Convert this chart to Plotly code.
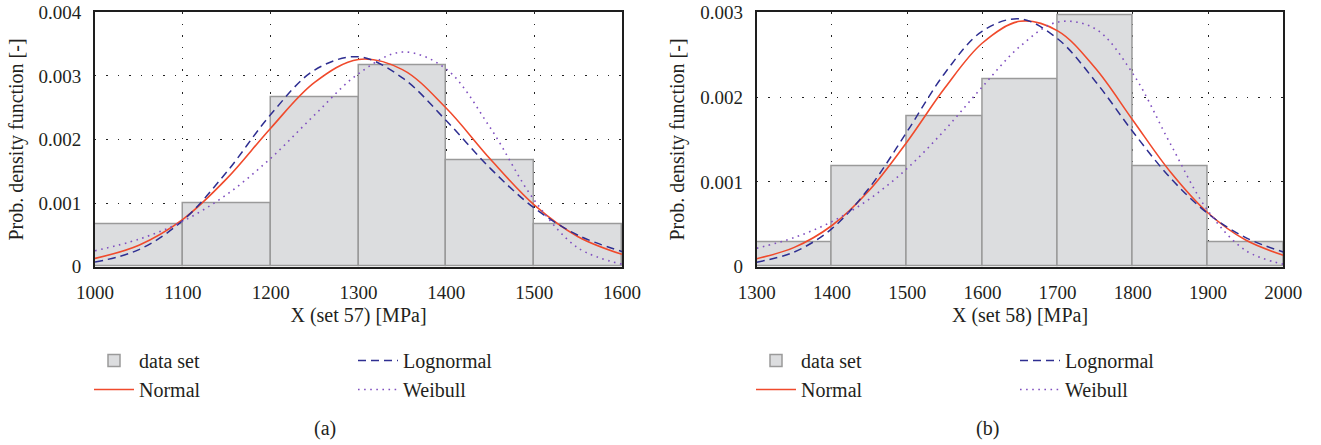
import plotly.graph_objects as go
from plotly.subplots import make_subplots

# ---------------- data ----------------
# Panel (a): set 57
BIN_LEFT_A = [1000, 1100, 1200, 1300, 1400, 1500]
DENS_A = [0.00067, 0.00100, 0.00267, 0.00317, 0.00167, 0.00067]

X_A = [1000, 1050, 1100, 1150, 1200, 1250, 1300, 1350, 1400, 1450, 1500, 1550, 1600]
NORMAL_A = [0.000130, 0.000338, 0.000744, 0.001384, 0.002178, 0.002898, 0.003259,
            0.003099, 0.002491, 0.001693, 0.000973, 0.000472, 0.000194]
LOGN_A = [0.000072, 0.000268, 0.000727, 0.001490, 0.002392, 0.003092, 0.003300,
          0.002969, 0.002295, 0.001547, 0.000924, 0.000494, 0.000239]
WEIB_A = [0.000251, 0.000432, 0.000715, 0.001135, 0.001704, 0.002386, 0.003035,
          0.003375, 0.003106, 0.002185, 0.001049, 0.000295, 0.000039]

# Panel (b): set 58
BIN_LEFT_B = [1300, 1400, 1500, 1600, 1700, 1800, 1900]
DENS_B = [0.00029, 0.00118, 0.00177, 0.00221, 0.00296, 0.00118, 0.00029]

X_B = [1300, 1350, 1400, 1450, 1500, 1550, 1600, 1650, 1700, 1750, 1800, 1850, 1900, 1950, 2000]
NORMAL_B = [0.000094, 0.000228, 0.000486, 0.000904, 0.001474, 0.002107, 0.002638, 0.002894,
            0.002781, 0.002342, 0.001728, 0.001117, 0.000633, 0.000314, 0.000136]
LOGN_B = [0.000053, 0.000174, 0.000449, 0.000934, 0.001595, 0.002282, 0.002779, 0.002923,
          0.002688, 0.002188, 0.001592, 0.001046, 0.000625, 0.000343, 0.000173]
WEIB_B = [0.000217, 0.000344, 0.000532, 0.000799, 0.001159, 0.001612, 0.002122, 0.002598,
          0.002885, 0.002806, 0.002278, 0.001447, 0.000658, 0.000191, 0.000030]

BIN_WIDTH = 100

X_TICKS_A = [1000, 1100, 1200, 1300, 1400, 1500, 1600]
X_TICKS_B = [1300, 1400, 1500, 1600, 1700, 1800, 1900, 2000]
Y_TICKS_A = [0, 0.001, 0.002, 0.003, 0.004]
Y_TICKTEXT_A = ["0", "0.001", "0.002", "0.003", "0.004"]
Y_TICKS_B = [0, 0.001, 0.002, 0.003]
Y_TICKTEXT_B = ["0", "0.001", "0.002", "0.003"]

X_TITLE_A = "X (set 57) [MPa]"
X_TITLE_B = "X (set 58) [MPa]"
Y_TITLE = "Prob. density function [-]"
SERIES_NAMES = ["data set", "Normal", "Lognormal", "Weibull"]

# ---------------- styling ----------------
FONT = "Liberation Serif"
TXT = "#231f20"
BAR_FILL = "#dcdddf"
BAR_EDGE = "#9a9a9a"
RED = "#f04a2c"
NAVY = "#2e2e91"
PURPLE = "#8050c0"

W, H = 1321, 445

fig = make_subplots(rows=1, cols=2)

def add_panel(col, bin_left, dens, xs, normal, logn, weib, legs):
    fig.add_trace(go.Bar(
        x=bin_left, y=dens, width=BIN_WIDTH, offset=0,
        marker=dict(color=BAR_FILL, line=dict(color=BAR_EDGE, width=1.5)),
        name=SERIES_NAMES[0], legend=legs[0], legendgroup=f"g{col}a",
        hoverinfo="skip"), row=1, col=col)
    fig.add_trace(go.Scatter(
        x=xs, y=normal, mode="lines", line=dict(color=RED, width=1.6, shape="spline"),
        name=SERIES_NAMES[1], legend=legs[0], legendgroup=f"g{col}b"), row=1, col=col)
    fig.add_trace(go.Scatter(
        x=xs, y=logn, mode="lines",
        line=dict(color=NAVY, width=1.5, shape="spline", dash="8px,5px"),
        name=SERIES_NAMES[2], legend=legs[1], legendgroup=f"g{col}c"), row=1, col=col)
    fig.add_trace(go.Scatter(
        x=xs, y=weib, mode="lines",
        line=dict(color=PURPLE, width=1.6, shape="spline", dash="1.6px,4.5px"),
        name=SERIES_NAMES[3], legend=legs[1], legendgroup=f"g{col}d"), row=1, col=col)

add_panel(1, BIN_LEFT_A, DENS_A, X_A, NORMAL_A, LOGN_A, WEIB_A, ["legend", "legend2"])
add_panel(2, BIN_LEFT_B, DENS_B, X_B, NORMAL_B, LOGN_B, WEIB_B, ["legend3", "legend4"])

ydom = [1 - 266.7 / H, 1 - 12.3 / H]
axis_common = dict(
    showline=True, linecolor="#1e1e1e", linewidth=1.7, mirror=True,
    showgrid=True, gridcolor="#222222", gridwidth=1.2, griddash="1.4px,10px",
    zeroline=False, ticks="", ticklabelstandoff=8,
    tickfont=dict(family=FONT, size=19, color=TXT),
    automargin=False,
)

fig.update_xaxes(**axis_common)
fig.update_yaxes(**axis_common)

fig.update_layout(
    xaxis=dict(domain=[95 / W, 622 / W], range=[1000, 1600], tickvals=X_TICKS_A,
               title=dict(text=X_TITLE_A, standoff=6, font=dict(family=FONT, size=20, color=TXT))),
    xaxis2=dict(domain=[756.7 / W, 1283.3 / W], range=[1300, 2000], tickvals=X_TICKS_B,
                title=dict(text=X_TITLE_B, standoff=6, font=dict(family=FONT, size=20, color=TXT))),
    yaxis=dict(domain=ydom, range=[0, 0.004], tickvals=Y_TICKS_A, ticktext=Y_TICKTEXT_A,
               title=dict(text=Y_TITLE, standoff=10, font=dict(family=FONT, size=20, color=TXT))),
    yaxis2=dict(domain=ydom, range=[0, 0.003], tickvals=Y_TICKS_B, ticktext=Y_TICKTEXT_B,
                title=dict(text=Y_TITLE, standoff=10, font=dict(family=FONT, size=20, color=TXT))),
    bargap=0,
    width=W, height=H,
    margin=dict(l=0, r=0, t=0, b=0),
    paper_bgcolor="white", plot_bgcolor="white",
    font=dict(family=FONT, size=20, color=TXT),
    hovermode=False,
)

leg_common = dict(orientation="v", xanchor="left", yanchor="top", bgcolor="rgba(0,0,0,0)",
                  font=dict(family=FONT, size=20, color=TXT), itemwidth=40,
                  tracegroupgap=2, traceorder="normal")
LEG_TOP = 1 - 341 / H
fig.update_layout(
    legend=dict(x=89 / W, y=LEG_TOP, **leg_common),
    legend2=dict(x=353 / W, y=LEG_TOP, **leg_common),
    legend3=dict(x=751 / W, y=LEG_TOP, **leg_common),
    legend4=dict(x=1015 / W, y=LEG_TOP, **leg_common),
)

fig.add_annotation(text="(a)", x=325 / W, y=1 - 428 / H, xref="paper", yref="paper",
                   xanchor="center", yanchor="middle",
                   showarrow=False, font=dict(family=FONT, size=20, color=TXT))
fig.add_annotation(text="(b)", x=987 / W, y=1 - 428 / H, xref="paper", yref="paper",
                   xanchor="center", yanchor="middle",
                   showarrow=False, font=dict(family=FONT, size=20, color=TXT))

fig.write_html("out.html", post_script="document.body.style.margin='0';",
               config={"displayModeBar": False})
